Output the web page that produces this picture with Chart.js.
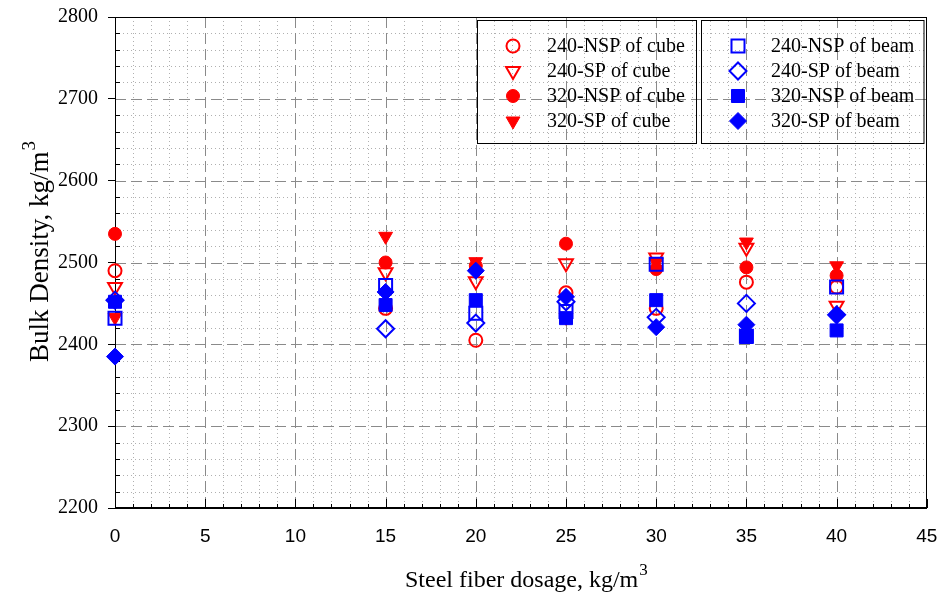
<!DOCTYPE html>
<html>
<head>
<meta charset="utf-8">
<script src="https://cdn.jsdelivr.net/npm/chart.js@4/dist/chart.umd.min.js"></script>
<style>
html,body{margin:0;padding:0;background:#fff;}
#wrap{width:938px;height:594px;position:relative;}
</style>
</head>
<body>
<div id="wrap"><canvas id="c" width="938" height="594"></canvas></div>
<script>
// ---- data ----
const dosages = [0, 15, 20, 25, 30, 35, 40];
const nsp240Cube = [2490, 2444, 2405, 2463, 2444, 2476, 2470];
const sp240Cube  = [2470, 2488, 2477, 2499, 2506, 2518, 2447];
const nsp320Cube = [2535, 2500, 2496, 2523, 2492, 2494, 2484];
const sp320Cube  = [2433, 2532, 2501, 2433, 2500, 2525, 2496];
const nsp240Beam = [2432, 2472, 2438, 2440, 2498, 2410, 2470];
const sp240Beam  = [2454, 2419, 2426, 2452, 2433, 2450, 2436];
const nsp320Beam = [2452, 2448, 2454, 2432, 2454, 2409, 2417];
const sp320Beam  = [2385, 2464, 2490, 2458, 2421, 2424, 2436];
const seriesNames = [
  '240-NSP of cube', '240-SP of cube', '320-NSP of cube', '320-SP of cube',
  '240-NSP of beam', '240-SP of beam', '320-NSP of beam', '320-SP of beam'
];
const xTickStep = 5, xMin = 0, xMax = 45;
const yTickStep = 100, yMin = 2200, yMax = 2800;
const xTitle = 'Steel fiber dosage, kg/m';
const yTitle = 'Bulk Density, kg/m';
const titleSup = '3';

// ---- styles ----
const RED = '#ff0000', BLUE = '#0000ff';
const seriesValues = [nsp240Cube, sp240Cube, nsp320Cube, sp320Cube, nsp240Beam, sp240Beam, nsp320Beam, sp320Beam];
const styleSpec = [
  {c: RED,  s: 'circle',   r: 6.5, rot: 0,   fill: false},
  {c: RED,  s: 'triangle', r: 8,   rot: 180, fill: false},
  {c: RED,  s: 'circle',   r: 6.5, rot: 0,   fill: true},
  {c: RED,  s: 'triangle', r: 8,   rot: 180, fill: true},
  {c: BLUE, s: 'rect',     r: 9.2, rot: 0,   fill: false},
  {c: BLUE, s: 'rectRot',  r: 8.5, rot: 0,   fill: false},
  {c: BLUE, s: 'rect',     r: 9.2, rot: 0,   fill: true},
  {c: BLUE, s: 'rectRot',  r: 8.5, rot: 0,   fill: true}
];

const datasets = seriesNames.map((name, i) => {
  const st = styleSpec[i];
  return {
    label: name,
    data: dosages.map((x, j) => ({x: x, y: seriesValues[i][j]})),
    pointStyle: st.s,
    pointRadius: st.r,
    pointHoverRadius: st.r,
    rotation: st.rot,
    borderColor: st.c,
    backgroundColor: st.fill ? st.c : 'rgba(0,0,0,0)',
    borderWidth: st.fill ? 1 : 2,
    showLine: false,
    clip: false,
    order: seriesNames.length - i
  };
});

const SERIF = '"Liberation Serif", "Times New Roman", serif';
const SANS = '"Liberation Sans", Arial, sans-serif';

const decorPlugin = {
  id: 'decor',
  beforeDatasetsDraw(chart) {
    const {ctx, chartArea: a, scales: {x, y}} = chart;
    ctx.save();
    ctx.lineWidth = 1;
    // minor dotted grid
    ctx.strokeStyle = '#b0b0b0';
    ctx.setLineDash([1, 3]);
    for (let v = xMin + 1; v < xMax; v += 1) {
      if (v % xTickStep === 0) continue;
      const px = Math.round(x.getPixelForValue(v)) + 0.5;
      ctx.beginPath(); ctx.moveTo(px, a.top); ctx.lineTo(px, a.bottom); ctx.stroke();
    }
    for (let v = yMin + 20; v < yMax; v += 20) {
      if (v % yTickStep === 0) continue;
      const py = Math.round(y.getPixelForValue(v)) + 0.5;
      ctx.beginPath(); ctx.moveTo(a.left, py); ctx.lineTo(a.right, py); ctx.stroke();
    }
    // major dashed grid
    ctx.strokeStyle = '#8a8a8a';
    ctx.setLineDash([11, 5]);
    for (let v = xMin + xTickStep; v < xMax; v += xTickStep) {
      const px = Math.round(x.getPixelForValue(v)) + 0.5;
      ctx.beginPath(); ctx.moveTo(px, a.top); ctx.lineTo(px, a.bottom); ctx.stroke();
    }
    for (let v = yMin + yTickStep; v < yMax; v += yTickStep) {
      const py = Math.round(y.getPixelForValue(v)) + 0.5;
      ctx.beginPath(); ctx.moveTo(a.left, py); ctx.lineTo(a.right, py); ctx.stroke();
    }
    // inner ticks
    ctx.setLineDash([]);
    ctx.strokeStyle = '#000';
    for (let v = xMin; v <= xMax; v += 1) {
      const px = Math.round(x.getPixelForValue(v)) + 0.5;
      const len = v % xTickStep === 0 ? 9 : 4;
      ctx.beginPath(); ctx.moveTo(px, a.bottom); ctx.lineTo(px, a.bottom - len); ctx.stroke();
    }
    for (let v = yMin; v <= yMax; v += 20) {
      const py = Math.round(y.getPixelForValue(v)) + 0.5;
      if (v % yTickStep === 0) continue;
      ctx.beginPath(); ctx.moveTo(a.left, py); ctx.lineTo(a.left + 5, py); ctx.stroke();
    }
    // frame
    ctx.strokeStyle = '#000';
    ctx.strokeRect(Math.round(a.left) + 0.5, Math.round(a.top) + 0.5,
                   Math.round(a.right - a.left) - 1, Math.round(a.bottom - a.top) - 1);
    ctx.restore();
  },
  afterDatasetsDraw(chart) {
    const {ctx, chartArea: a} = chart;
    ctx.save();
    // legend boxes
    const boxes = [
      {x: 477.5, y: 20.5, w: 219, h: 123, markX: 513, textX: 547, items: [0, 1, 2, 3]},
      {x: 701.5, y: 20.5, w: Math.round(a.right) - 3 - 701.5, h: 123, markX: 738, textX: 771, items: [4, 5, 6, 7]}
    ];
    const rowY = [46, 71, 96, 121];
    boxes.forEach(b => {
      ctx.setLineDash([]);
      ctx.lineWidth = 1;
      ctx.strokeStyle = '#000';
      ctx.strokeRect(b.x, b.y, b.w, b.h);
      b.items.forEach((di, k) => {
        const ds = chart.data.datasets[di];
        ctx.strokeStyle = ds.borderColor;
        ctx.fillStyle = ds.backgroundColor;
        ctx.lineWidth = ds.borderWidth;
        Chart.helpers.drawPoint(ctx, {
          pointStyle: ds.pointStyle, rotation: ds.rotation,
          radius: ds.pointRadius, borderWidth: ds.borderWidth
        }, b.markX, rowY[k]);
        ctx.fillStyle = '#000';
        ctx.font = '20px ' + SERIF;
        ctx.textAlign = 'left';
        ctx.textBaseline = 'middle';
        ctx.fillText(ds.label, b.textX, rowY[k] + 1);
      });
    });
    ctx.restore();
  },
  afterDraw(chart) {
    const {ctx, chartArea: a} = chart;
    ctx.save();
    ctx.fillStyle = '#000';
    ctx.textBaseline = 'alphabetic';
    // x title
    ctx.font = '24px ' + SERIF;
    const wMain = ctx.measureText(xTitle).width;
    ctx.font = '17px ' + SERIF;
    const wSup = ctx.measureText(titleSup).width;
    let cx = (a.left + a.right) / 2 + 5;
    let sx = cx - (wMain + wSup) / 2;
    ctx.font = '24px ' + SERIF;
    ctx.textAlign = 'left';
    ctx.fillText(xTitle, sx, 587);
    ctx.font = '17px ' + SERIF;
    ctx.fillText(titleSup, sx + wMain + 1, 575);
    // y title (rotated)
    ctx.translate(48, 252);
    ctx.rotate(-Math.PI / 2);
    ctx.font = '27px ' + SERIF;
    const wyMain = ctx.measureText(yTitle).width;
    ctx.font = '19px ' + SERIF;
    const wySup = ctx.measureText(titleSup).width;
    const sy = -(wyMain + wySup) / 2;
    ctx.font = '27px ' + SERIF;
    ctx.fillText(yTitle, sy, 0);
    ctx.font = '19px ' + SERIF;
    ctx.fillText(titleSup, sy + wyMain + 1, -13);
    ctx.restore();
  }
};

new Chart(document.getElementById('c'), {
  type: 'scatter',
  data: {datasets: datasets},
  plugins: [decorPlugin],
  options: {
    responsive: false,
    animation: false,
    devicePixelRatio: 1,
    layout: {padding: {top: 17, right: 10, left: 0, bottom: 0}},
    plugins: {legend: {display: false}, tooltip: {enabled: false}, title: {display: false}},
    scales: {
      x: {
        type: 'linear', min: xMin, max: xMax,
        ticks: {stepSize: xTickStep, color: '#000', font: {family: SANS, size: 19}, padding: 17, maxRotation: 0,
                callback: v => String(v)},
        grid: {display: true, drawOnChartArea: false, drawTicks: false},
        border: {display: true, color: '#000', width: 1},
        afterFit(s) { s.height = 86; s.paddingLeft = 0; s.paddingRight = 0; }
      },
      y: {
        type: 'linear', min: yMin, max: yMax,
        ticks: {stepSize: yTickStep, color: '#000', font: {family: SERIF, size: 20}, padding: 10,
                callback: v => String(v)},
        grid: {display: true, drawOnChartArea: false, drawTicks: true, tickLength: 7, tickColor: '#000', color: '#000'},
        border: {display: true, color: '#000', width: 1},
        afterFit(s) { s.width = 115; s.paddingTop = 0; s.paddingBottom = 0; }
      }
    }
  }
});
</script>
</body>
</html>
